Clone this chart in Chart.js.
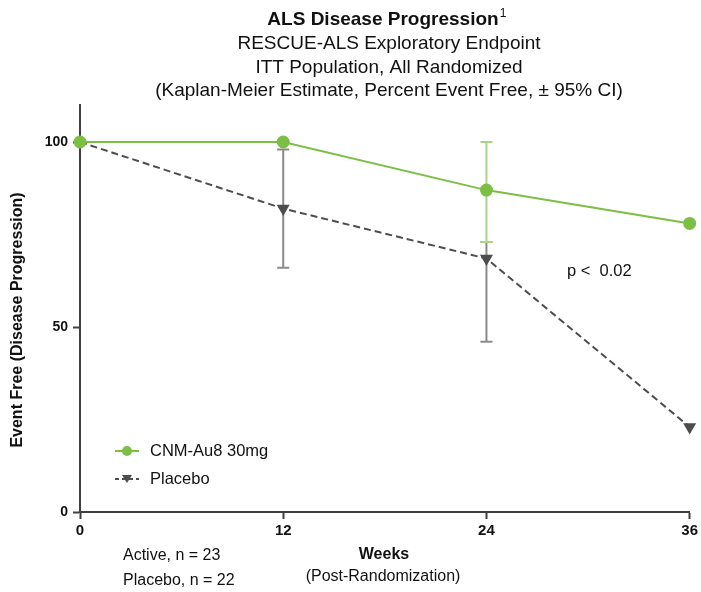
<!DOCTYPE html>
<html>
<head>
<meta charset="utf-8">
<script src="https://cdn.jsdelivr.net/npm/chart.js@4.4.0/dist/chart.umd.min.js"></script>
<style>
  html, body { margin: 0; padding: 0; background: #fff; }
  #wrap { width: 701px; height: 592px; position: relative; }
</style>
</head>
<body>
<div id="wrap"><canvas id="chart" width="701" height="592"></canvas></div>
<script>
const weeks = [0, 12, 24, 36];
const xTicks = [0, 12, 24, 36];
const yTicks = [0, 50, 100];

const activeLabel = 'CNM-Au8 30mg';
const activeValues = [100, 100, 87, 78];
const activeLower = [null, null, 73, null];
const activeUpper = [null, null, 100, null];

const placeboLabel = 'Placebo';
const placeboValues = [100, 82, 68.5, 23];
const placeboLower = [null, 66, 46, null];
const placeboUpper = [null, 98, 73, null];

const titleLines = [
  'RESCUE-ALS Exploratory Endpoint',
  'ITT Population, All Randomized',
  '(Kaplan-Meier Estimate, Percent Event Free, \u00b1 95% CI)'
];

const GREEN = '#7cbf45';
const GREEN_LIGHT = '#a9d487';
const DARK = '#4d4d4d';
const BAR_GRAY = '#8a8a8a';
const AXIS = '#3f3f3f';
const FONT = '"Liberation Sans", Arial, sans-serif';

const toPoints = vals => weeks.map((w, i) => ({ x: w, y: vals[i] }));

// error bars drawn through the chart scales
const errorBars = {
  id: 'errorBars',
  beforeDatasetsDraw(chart) {
    const { ctx, scales: { x, y } } = chart;
    const sets = [
      { lo: placeboLower, hi: placeboUpper, color: BAR_GRAY },
      { lo: activeLower, hi: activeUpper, color: GREEN_LIGHT }
    ];
    ctx.save();
    ctx.lineWidth = 2;
    sets.forEach(s => {
      ctx.strokeStyle = s.color;
      weeks.forEach((w, i) => {
        if (s.lo[i] == null) return;
        const px = x.getPixelForValue(w);
        const y1 = y.getPixelForValue(s.lo[i]);
        const y2 = y.getPixelForValue(s.hi[i]);
        ctx.beginPath();
        ctx.moveTo(px, y1); ctx.lineTo(px, y2);
        ctx.moveTo(px - 6, y1); ctx.lineTo(px + 6, y1);
        ctx.moveTo(px - 6, y2); ctx.lineTo(px + 6, y2);
        ctx.stroke();
      });
    });
    ctx.restore();
  }
};

const annotations = {
  id: 'annotations',
  afterDraw(chart) {
    const { ctx } = chart;
    ctx.save();
    ctx.fillStyle = '#111';
    ctx.textBaseline = 'middle';
    ctx.textAlign = 'center';

    // titles
    const cx = 389;
    ctx.font = 'bold 19px ' + FONT;
    const t = 'ALS Disease Progression';
    const tw = ctx.measureText(t).width;
    ctx.fillText(t, cx - 6, 20);
    ctx.font = '12px ' + FONT;
    ctx.textAlign = 'left';
    ctx.fillText('1', cx - 6 + tw / 2 + 1, 14);
    ctx.textAlign = 'center';
    ctx.font = '19px ' + FONT;
    titleLines.forEach((line, i) => ctx.fillText(line, cx, 44 + i * 23.5));

    // y axis title
    ctx.save();
    ctx.translate(18, 320);
    ctx.rotate(-Math.PI / 2);
    ctx.font = 'bold 16px ' + FONT;
    ctx.fillText('Event Free (Disease Progression)', 0, 0);
    ctx.restore();

    // x axis title
    ctx.font = 'bold 16px ' + FONT;
    ctx.fillText('Weeks', 384, 555);
    ctx.font = '16px ' + FONT;
    ctx.fillText('(Post-Randomization)', 383, 577);

    // n counts
    ctx.textAlign = 'left';
    ctx.fillText('Active, n = 23', 123, 556);
    ctx.fillText('Placebo, n = 22', 123, 581);

    // p value
    ctx.font = '16.5px ' + FONT;
    ctx.fillText('p <  0.02', 567, 271);

    // legend
    const legend = [
      { label: activeLabel, color: GREEN, dash: [], style: 'circle', y: 451 },
      { label: placeboLabel, color: DARK, dash: [4, 3], style: 'triangle', y: 479 }
    ];
    legend.forEach(l => {
      ctx.strokeStyle = l.color;
      ctx.fillStyle = l.color;
      ctx.lineWidth = 2;
      ctx.setLineDash(l.dash);
      ctx.beginPath();
      ctx.moveTo(115, l.y); ctx.lineTo(139, l.y);
      ctx.stroke();
      ctx.setLineDash([]);
      ctx.beginPath();
      if (l.style === 'circle') {
        ctx.arc(127, l.y, 5, 0, Math.PI * 2);
      } else {
        ctx.moveTo(122, l.y - 4); ctx.lineTo(132, l.y - 4); ctx.lineTo(127, l.y + 4);
        ctx.closePath();
      }
      ctx.fill();
      ctx.fillStyle = '#111';
      ctx.font = '16.5px ' + FONT;
      ctx.fillText(l.label, 150, l.y);
    });
    ctx.restore();
  }
};

new Chart(document.getElementById('chart').getContext('2d'), {
  type: 'line',
  data: {
    datasets: [
      {
        label: activeLabel,
        data: toPoints(activeValues),
        borderColor: GREEN,
        backgroundColor: GREEN,
        borderWidth: 2,
        pointStyle: 'circle',
        pointRadius: 5.5,
        clip: false
      },
      {
        label: placeboLabel,
        data: toPoints(placeboValues),
        borderColor: DARK,
        backgroundColor: DARK,
        borderWidth: 2,
        borderDash: [7, 4],
        pointStyle: 'triangle',
        rotation: 180,
        pointRadius: [0, 5.5, 5.5, 5.5],
        clip: false
      }
    ]
  },
  options: {
    responsive: false,
    animation: false,
    layout: { padding: { top: 105, right: 11, left: 0, bottom: 0 } },
    plugins: {
      legend: { display: false },
      tooltip: { enabled: false }
    },
    scales: {
      x: {
        type: 'linear',
        min: 0,
        max: 36,
        afterFit: s => { s.height = 80; },
        afterBuildTicks: s => { s.ticks = xTicks.map(v => ({ value: v })); },
        border: { color: AXIS, width: 2 },
        grid: { drawOnChartArea: false, color: AXIS, tickColor: AXIS, tickLength: 7, tickWidth: 2 },
        ticks: { color: '#111', padding: 3, font: { family: FONT, size: 15, weight: 'bold' } }
      },
      y: {
        min: 0,
        max: 110,
        afterFit: s => { s.width = 80; },
        afterBuildTicks: s => { s.ticks = yTicks.map(v => ({ value: v })); },
        border: { color: AXIS, width: 2 },
        grid: { drawOnChartArea: false, color: AXIS, tickColor: AXIS, tickLength: 7, tickWidth: 2 },
        ticks: { color: '#111', padding: 5, font: { family: FONT, size: 14, weight: 'bold' } }
      }
    }
  },
  plugins: [errorBars, annotations]
});
</script>
</body>
</html>
